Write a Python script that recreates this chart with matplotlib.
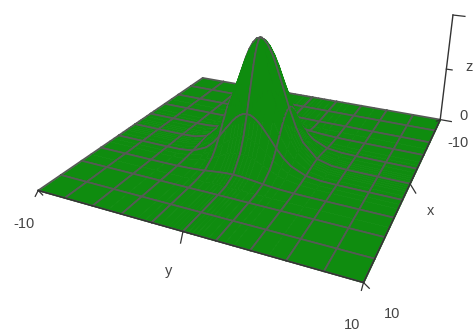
import numpy as np
import matplotlib
matplotlib.use("Agg")
import matplotlib.pyplot as plt
from mpl_toolkits.mplot3d.art3d import Poly3DCollection

# surface heights read for one quadrant (x, y >= 0), the hill is symmetric
half_grid = [0, 0.25, 0.5, 0.75, 1, 1.5, 2, 2.5, 3, 4, 5, 6, 8, 10]
z_quadrant = np.array([
    [1.000, .988, .951, .894, .819, .638, .449, .287, .165, .041, .007, .001, 0, 0],
    [.988, .975, .939, .883, .809, .630, .444, .283, .163, .040, .007, .001, 0, 0],
    [.951, .939, .905, .850, .779, .607, .427, .273, .157, .039, .006, .001, 0, 0],
    [.894, .883, .850, .799, .732, .570, .402, .256, .148, .036, .006, .001, 0, 0],
    [.819, .809, .779, .732, .670, .522, .368, .235, .135, .033, .006, .001, 0, 0],
    [.638, .630, .607, .570, .522, .407, .287, .183, .105, .026, .004, 0, 0, 0],
    [.449, .444, .427, .402, .368, .287, .202, .129, .074, .018, .003, 0, 0, 0],
    [.287, .283, .273, .256, .235, .183, .129, .082, .047, .012, .002, 0, 0, 0],
    [.165, .163, .157, .148, .135, .105, .074, .047, .027, .007, .001, 0, 0, 0],
    [.041, .040, .039, .036, .033, .026, .018, .012, .007, .002, 0, 0, 0, 0],
    [.007, .007, .006, .006, .006, .004, .003, .002, .001, 0, 0, 0, 0, 0],
    [.001, .001, .001, .001, .001, 0, 0, 0, 0, 0, 0, 0, 0, 0],
    [0, 0, 0, 0, 0, 0, 0, 0, 0, 0, 0, 0, 0, 0],
    [0, 0, 0, 0, 0, 0, 0, 0, 0, 0, 0, 0, 0, 0],
])

grid = np.array([-v for v in half_grid[:0:-1]] + half_grid, float)
Z = np.vstack([z_quadrant[:0:-1], z_quadrant])
Z = np.hstack([Z[:, :0:-1], Z])
X, Y = np.meshgrid(grid, grid, indexing="ij")

GREEN = "#0f8c0f"
GRAY = "#555a55"
DARK = "#333333"
TEXT = "#444444"

fig = plt.figure(figsize=(4.73, 3.34), dpi=100)
ax = fig.add_axes([32.37 / 473, 9.52 / 334, 444 / 473, 444 / 334], projection="3d", computed_zorder=False)
ax.set_xlim(-10, 10); ax.set_ylim(-10, 10); ax.set_zlim(0, 1)
ax.view_init(23.30, 24.59, 0)
ax.set_proj_type("persp", focal_length=0.269)
ax.set_box_aspect((1, 1, 0.398))
ax.set_axis_off()
ax.patch.set_alpha(0)

# far cells first, near cells over them, so the hill hides what is behind it
order = 0
on_line = [abs(v % 2) < 1e-9 for v in grid]
for i in range(len(grid) - 1):
    for j in range(len(grid) - 1):
        cell = [(X[a, b], Y[a, b], Z[a, b]) for a, b in [(i, j), (i + 1, j), (i + 1, j + 1), (i, j + 1)]]
        ax.add_collection3d(Poly3DCollection([cell], facecolors=GREEN, edgecolors=GREEN, linewidths=0.5, zorder=order))
        order += 1
        for a, b, c, d in [(i, j, i + 1, j), (i, j + 1, i + 1, j + 1)]:
            if on_line[b]:
                ax.plot([X[a, b], X[c, d]], [Y[a, b], Y[c, d]], [Z[a, b], Z[c, d]], color=GRAY, lw=1.25,
                        solid_capstyle="round", zorder=order)
        for a, b, c, d in [(i, j, i, j + 1), (i + 1, j, i + 1, j + 1)]:
            if on_line[a]:
                ax.plot([X[a, b], X[c, d]], [Y[a, b], Y[c, d]], [Z[a, b], Z[c, d]], color=GRAY, lw=1.25,
                        solid_capstyle="round", zorder=order)
        order += 1

# axes and ticks
top = order + 1
ax.plot([10, 10], [-10, 10], [0, 0], color=DARK, lw=1.0, zorder=top)
ax.plot([-10, 10], [10, 10], [0, 0], color=DARK, lw=1.0, zorder=top)
ax.plot([-10, -10], [10, 10], [0, 1], color=DARK, lw=1.0, zorder=top)
ax.plot([10, 10.3], [-10, -10], [0, -0.03], color=DARK, lw=0.9, zorder=top)
ax.plot([10, 10], [-10, -9.7], [0, -0.03], color=DARK, lw=0.9, zorder=top)
ax.plot([10, 10.3], [0, 0], [0, -0.07], color=DARK, lw=0.9, zorder=top)
ax.plot([10, 10.3], [10, 10], [0, -0.03], color=DARK, lw=0.9, zorder=top)
ax.plot([10, 10], [10, 10.3], [0, -0.03], color=DARK, lw=0.9, zorder=top)
ax.plot([0, 0], [10, 10.4], [0, -0.07], color=DARK, lw=0.9, zorder=top)
ax.plot([-10, -10], [10, 10.8], [0, 0], color=DARK, lw=0.9, zorder=top)
ax.plot([-10, -9.6], [10, 9.8], [0, 0], color=DARK, lw=0.9, zorder=top)
ax.plot([-10, -10], [10, 10.4], [0.5, 0.5], color=DARK, lw=0.9, zorder=top)
ax.plot([-10, -10], [10, 10.8], [1, 1], color=DARK, lw=0.9, zorder=top)

labels = ["-10", "y", "x", "z", "0", "-10", "10", "10", "1"]
label_x = [24, 169, 431, 469, 463, 458, 392, 352, 476]
label_y = [224, 271, 211, 67, 116, 143, 314, 325, 10]
for s, lx, ly in zip(labels, label_x, label_y):
    fig.text(lx / 473, 1 - ly / 334, s, ha="center", va="center", color=TEXT,
             fontsize=10.5, family="Liberation Sans")

fig.savefig("out.png", dpi=100)
